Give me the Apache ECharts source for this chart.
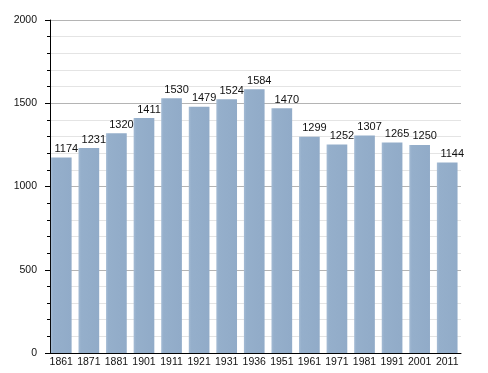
<!DOCTYPE html>
<html>
<head>
<meta charset="utf-8">
<script src="https://cdn.jsdelivr.net/npm/echarts@6/dist/echarts.min.js"></script>
<style>
html,body{margin:0;padding:0;background:#fff;}
#chart{width:488px;height:373px;}
</style>
</head>
<body>
<div id="chart"></div>
<script>
const years = ['1861','1871','1881','1901','1911','1921','1931','1936','1951','1961','1971','1981','1991','2001','2011'];
const population = [1174,1231,1320,1411,1530,1479,1524,1584,1470,1299,1252,1307,1265,1250,1144];
const yTicks = [0, 500, 1000, 1500, 2000];

const chart = echarts.init(document.getElementById('chart'), null, {renderer:'canvas'});
chart.setOption({
  animation: false,
  backgroundColor: '#ffffff',
  textStyle: {fontFamily: 'Liberation Sans, Arial, sans-serif'},
  grid: {left: 47.5, right: 27, top: 20, bottom: 20, containLabel: false},
  xAxis: {
    type: 'category',
    data: years,
    axisLine: {show: true, lineStyle: {color: '#000', width: 1}},
    axisTick: {show: false},
    axisLabel: {color: '#111', fontSize: 10.5, margin: 4, interval: 0, fontFamily: 'Liberation Sans, Arial, sans-serif'},
    splitLine: {show: false}
  },
  yAxis: {
    type: 'value',
    min: yTicks[0],
    max: yTicks[yTicks.length - 1],
    interval: 500,
    offset: -2.5,
    axisLine: {show: true, lineStyle: {color: '#000', width: 1}},
    axisTick: {show: true, length: 5, lineStyle: {color: '#000'}},
    minorTick: {show: true, splitNumber: 5, length: 3, lineStyle: {color: '#000'}},
    axisLabel: {color: '#111', fontSize: 10.5, margin: 13, formatter: v => String(v), fontFamily: 'Liberation Sans, Arial, sans-serif'},
    splitLine: {show: true, lineStyle: {color: '#b4b4b4', width: 1}},
    minorSplitLine: {show: true, lineStyle: {color: '#e4e4e4', width: 1}}
  },
  series: [{
    type: 'bar',
    data: population,
    barCategoryGap: '25%',
    itemStyle: {
      color: new echarts.graphic.LinearGradient(0, 0, 1, 0, [
        {offset: 0, color: '#a4bbd4'},
        {offset: 0.12, color: '#95afcb'},
        {offset: 1, color: '#91abc8'}
      ])
    },
    label: {
      show: true,
      position: 'top',
      distance: 3,
      offset: [5, 0],
      color: '#111',
      fontSize: 11,
      fontFamily: 'Liberation Sans, Arial, sans-serif'
    }
  }]
});
</script>
</body>
</html>
